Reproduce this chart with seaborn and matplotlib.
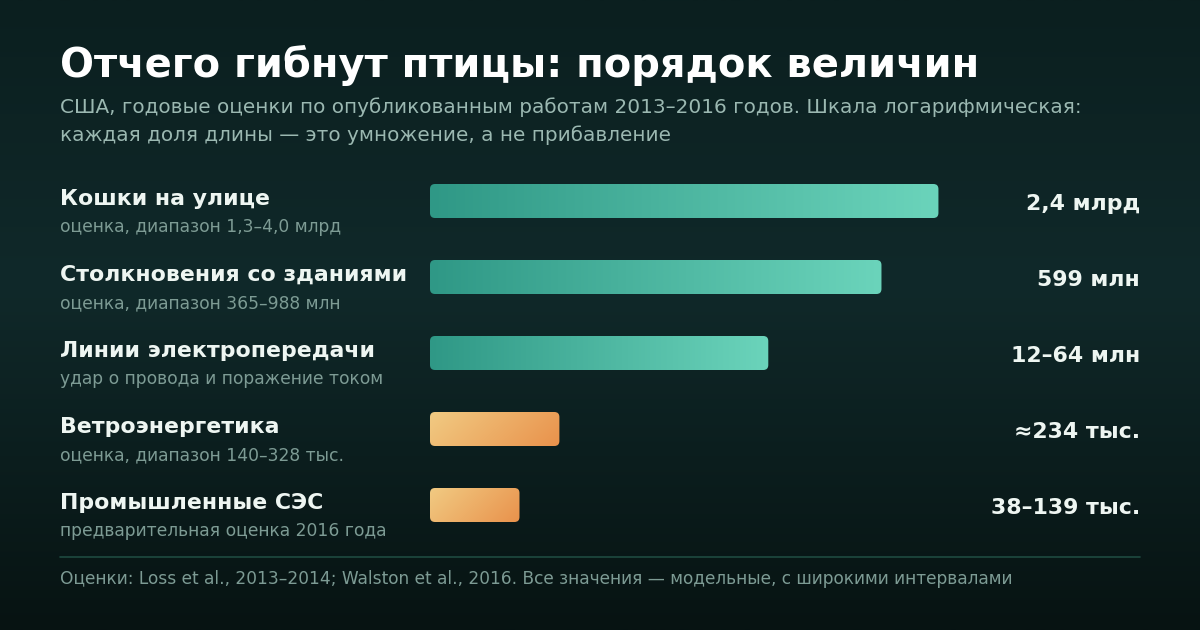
import numpy as np
import pandas as pd
import matplotlib
matplotlib.use("Agg")
import matplotlib.pyplot as plt
import seaborn as sns
from matplotlib.patches import FancyBboxPatch
from matplotlib.colors import LinearSegmentedColormap

# --- data ---
categories = ["Кошки на улице", "Столкновения со зданиями", "Линии электропередачи",
              "Ветроэнергетика", "Промышленные СЭС"]
notes = ["оценка, диапазон 1,3–4,0 млрд", "оценка, диапазон 365–988 млн",
         "удар о провода и поражение током", "оценка, диапазон 140–328 тыс.",
         "предварительная оценка 2016 года"]
values = [2.4e9, 599e6, 38e6, 234e3, 88.5e3]   # для диапазонов — середина
value_labels = ["2,4 млрд", "599 млн", "12–64 млн", "≈234 тыс.", "38–139 тыс."]
groups = ["bio", "bio", "bio", "energy", "energy"]

title = "Отчего гибнут птицы: порядок величин"
subtitle_lines = ["США, годовые оценки по опубликованным работам 2013–2016 годов. Шкала логарифмическая:",
                  "каждая доля длины — это умножение, а не прибавление"]
footer = "Оценки: Loss et al., 2013–2014; Walston et al., 2016. Все значения — модельные, с широкими интервалами"

df = pd.DataFrame({"cat": categories, "value": values, "group": groups})

sns.set_theme(style="white")
plt.rcParams['font.family'] = ['DejaVu Sans']

W, H = 1200, 630
fig = plt.figure(figsize=(12, 6.3), dpi=100)

# background gradient
ax_bg = fig.add_axes([0, 0, 1, 1])
bg_cmap = LinearSegmentedColormap.from_list(
    "bg", [(0, "#0b1f1f"), (0.45, "#10292a"), (1, "#071312")])
grad = np.linspace(0, 1, 256).reshape(-1, 1)
ax_bg.imshow(grad, aspect="auto", cmap=bg_cmap, extent=[0, 1, 0, 1], origin="upper")
ax_bg.set_axis_off()

# bar axes (log scale)
row_h = 76
top_px = 201 - row_h / 2
ax = fig.add_axes([430 / W, (H - (top_px + 5 * row_h)) / H, (997 - 430) / W, 5 * row_h / H])
ax.set_xscale("log")
sns.barplot(data=df, x="value", y="cat", orient="h", ax=ax, width=34 / row_h,
            color="#3aa893", legend=False)
ax.set_xlim(1e4, 1e10)
ax.set_ylim(4.5, -0.5)
ax.set_axis_off()

# overlay in pixel coordinates
ov = fig.add_axes([0, 0, 1, 1], zorder=5)
ov.set_xlim(0, W)
ov.set_ylim(H, 0)
ov.set_axis_off()
ov.patch.set_alpha(0)

teal = LinearSegmentedColormap.from_list("teal", ["#2f9886", "#6bd4bb"])
orange = LinearSegmentedColormap.from_list("orange", ["#f1ca82", "#e9924c"])

x_left = ax.transAxes.transform((0, 0))[0]
for i, p in enumerate(ax.patches[:len(categories)]):
    p.set_visible(False)
    x1 = ax.transData.transform((p.get_x() + p.get_width(), 0))[0]
    yb = ax.transData.transform((1e5, p.get_y()))[1]
    yt = ax.transData.transform((1e5, p.get_y() + p.get_height()))[1]
    y0, y1 = H - yb, H - yt
    yy0, yy1 = min(y0, y1), max(y0, y1)
    box = FancyBboxPatch((x_left, yy0), x1 - x_left, yy1 - yy0,
                         boxstyle="round,pad=0,rounding_size=5",
                         facecolor="none", edgecolor="none")
    ov.add_patch(box)
    if groups[i] == "bio":
        g = np.tile(np.linspace(0, 1, 256), (8, 1))
        cm = teal
    else:
        gx, gy = np.meshgrid(np.linspace(0, 1, 128), np.linspace(0, 1, 32))
        g = (gx * (x1 - x_left) + gy * (yy1 - yy0)) / ((x1 - x_left) + (yy1 - yy0))
        cm = orange
    im = ov.imshow(g, cmap=cm, aspect="auto", extent=[x_left, x1, yy1, yy0],
                   origin="upper", interpolation="bilinear")
    im.set_clip_path(box)

    cy = 201 + i * row_h
    ov.text(60, cy + 4, categories[i], fontsize=15.8, fontweight="bold",
            color="#eef6f2", va="baseline", ha="left")
    ov.text(60, cy + 31, notes[i], fontsize=12.3, color="#7d9b94",
            va="baseline", ha="left")
    ov.text(1140, cy + 8.5, value_labels[i], fontsize=15.8, fontweight="bold",
            color="#eef6f2", va="baseline", ha="right")

ov.set_xlim(0, W)
ov.set_ylim(H, 0)

ov.text(60, 77, title, fontsize=28.8, fontweight="bold", color="#ffffff",
        va="baseline", ha="left")
for k, line in enumerate(subtitle_lines):
    ov.text(60, 113 + 28 * k, line, fontsize=14.4, color="#9bb8b1",
            va="baseline", ha="left")
ov.plot([60, 1140], [556.5, 556.5], color="#1e4a40", lw=1.2)
ov.text(60, 584, footer, fontsize=12.26, color="#7d9b94", va="baseline", ha="left")

fig.savefig("out.png", dpi=100)
